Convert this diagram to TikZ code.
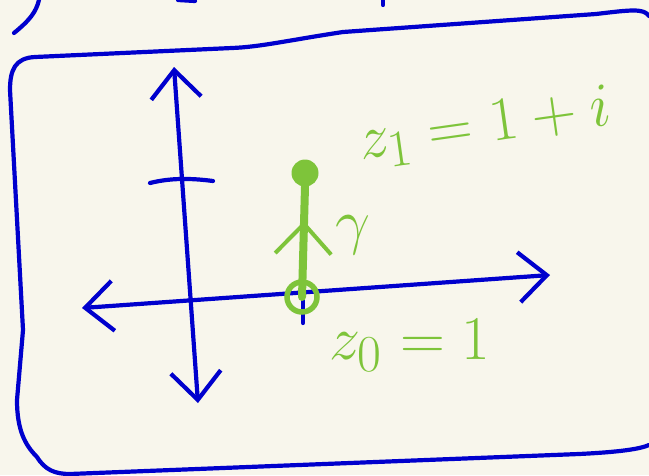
\documentclass[tikz,border=0pt]{standalone}
\usetikzlibrary{arrows.meta,decorations.markings}
\definecolor{paper}{RGB}{248,246,236}
\definecolor{penblue}{RGB}{0,0,205}
\definecolor{pengreen}{RGB}{126,196,58}
\tikzset{
  ink/.style={draw=penblue, line width=4.2pt, line cap=round, line join=round},
  chalk/.style={text=pengreen, font=\Huge, scale=2.5},
}
\begin{document}
\begin{tikzpicture}[x=1pt, y=-1pt, >={Straight Barb[length=28pt,width=50pt]}]
    \fill[paper] (0,0) rectangle (649,475);
    \useasboundingbox (0,0) rectangle (649,475);

    % frame and leftovers of the sheet above
    \draw[ink] (649,16) .. controls (644,8) and (630,10) .. (596,14) -- (343,32)
      .. controls (290,40) and (260,47) .. (232,48) -- (35,57)
      .. controls (15,58) and (10,70) .. (10,90) -- (23,330) -- (17,400)
      .. controls (17,430) and (25,445) .. (37,457)
      .. controls (45,470) and (55,474) .. (70,474) -- (579,454)
      .. controls (620,452) and (640,449) .. (649,445);
    \draw[ink] (39,0) .. controls (36,12) and (30,20) .. (14,33);
    \draw[ink] (178,0) -- (195,1);
    \draw[ink] (383,0) -- (383,5);

    % axes
    \coordinate (ytop) at (174,67);
    \coordinate (ybot) at (198,403);
    \coordinate (xleft) at (82,308);
    \coordinate (xright) at (550,275);
    \draw[ink, <->] (ybot) -- (ytop);
    \draw[ink, <->] (xleft) -- (xright);
    \draw[ink] (150,183) .. controls (170,178) and (190,178) .. (213,181);
    \draw[ink] (303,299) -- (303,323);

    % path gamma
    \node[draw=pengreen, line width=5.5pt, circle, minimum size=30pt, inner sep=0] (z0) at (302,297) {};
    \node[fill=pengreen, circle, minimum size=27pt, inner sep=0] (z1) at (305,173) {};
    \draw[pengreen, line width=8pt, line cap=round,
      decoration={markings, mark=at position 0.69 with {\arrow[line width=4pt]{Straight Barb[length=30pt,width=56pt]}}},
      postaction={decorate}] (z0.center) -- (z1.south);

    \node[chalk, rotate=8] (z1lab) at (485,128) {$z_1 = 1+i$};
    \node[chalk] (z0lab) at (410,345) {$z_0 = 1$};
    \node[chalk] (gam) at (353,235) {$\gamma$};
\end{tikzpicture}
\end{document}
